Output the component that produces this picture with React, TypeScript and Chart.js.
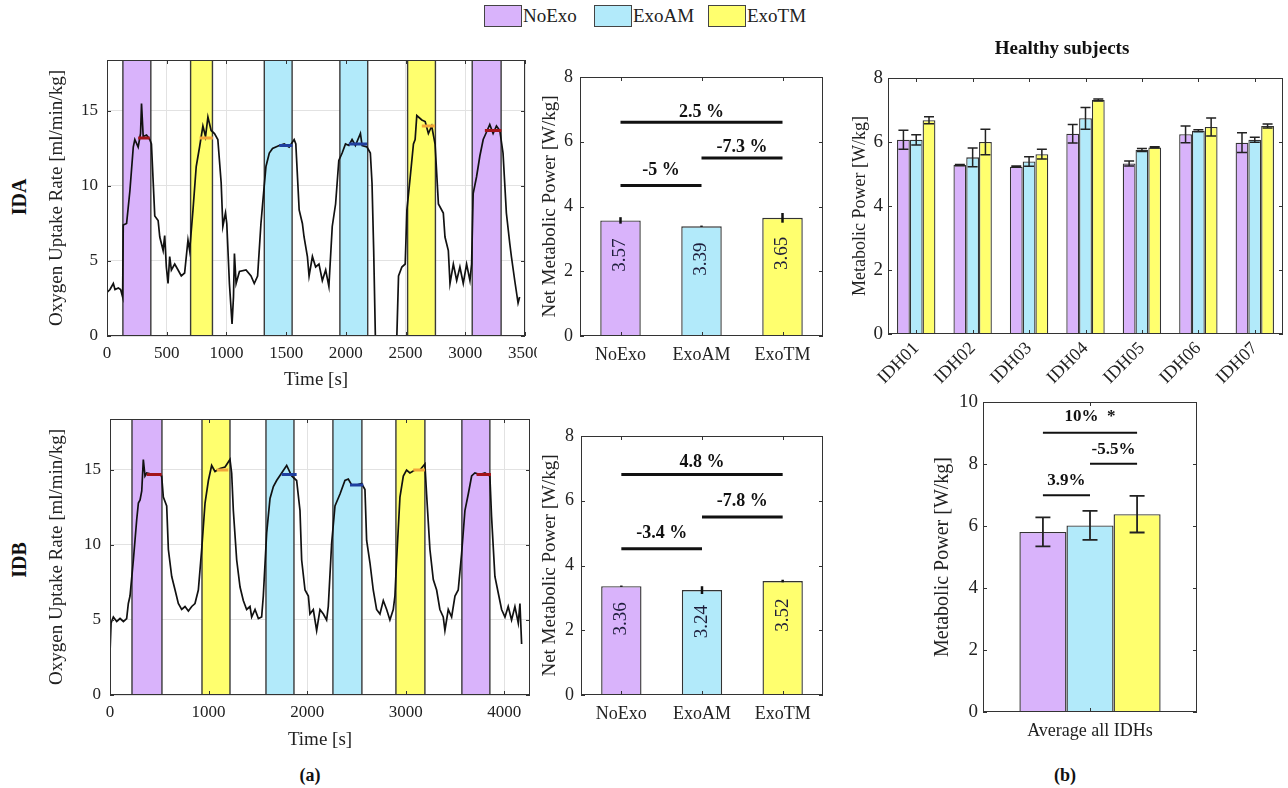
import React, { useEffect, useRef } from 'react';
import { Chart, registerables } from 'chart.js';

Chart.register(...registerables);

const FONT = '"Liberation Serif", "Times New Roman", Times, serif';
Chart.defaults.font.family = FONT;
Chart.defaults.color = '#222';

// ---------------- data ----------------
const conditions = ['NoExo', 'ExoAM', 'ExoTM'];

// IDA oxygen uptake time series
const idaTime = [
  0, 25, 53, 67, 95, 114, 131, 136, 164, 192,
  220, 233, 261, 281, 289, 303, 331, 358, 372, 386,
  400, 428, 442, 470, 483, 497, 511, 525, 539, 567,
  595, 622, 650, 678, 692, 720, 747, 775, 803, 825,
  845, 872, 900, 928, 956, 970, 992, 1003, 1025, 1047,
  1059, 1067, 1081, 1109, 1164, 1206, 1233, 1261, 1289, 1303,
  1331, 1359, 1386, 1442, 1484, 1525, 1567, 1581, 1609, 1636,
  1650, 1678, 1692, 1720, 1747, 1775, 1803, 1831, 1858,
  1886, 1914, 1941, 1969, 1997, 2025, 2052, 2080, 2122, 2136, 2177,
  2205, 2219, 2233, 2247, 2427, 2441, 2469, 2497, 2511, 2539,
  2566, 2580, 2594, 2636, 2664, 2691, 2719, 2747, 2775, 2816,
  2830, 2858, 2872, 2900, 2928, 2955, 2983, 3011, 3039, 3053,
  3066, 3094, 3122, 3150, 3178, 3205, 3233, 3261, 3289, 3316,
  3344, 3372, 3386, 3414, 3442, 3455,
];
const idaVO2 = [
  2.9, 3.1, 3.5, 3.1, 3.2, 3.1, 2.6, 7.4, 7.5, 9.7,
  12.6, 13.1, 12.6, 13.5, 15.5, 13.3, 13.4, 13.1, 12.8, 10.4,
  8.0, 7.7, 6.6, 5.7, 6.7, 4.6, 3.5, 5.3, 4.4, 4.8,
  4.4, 4.0, 4.2, 6.4, 5.7, 8.4, 11.3, 12.6, 14.0, 13.3,
  14.6, 13.7, 13.5, 13.1, 10.2, 7.3, 8.2, 7.5, 3.5, 0.8,
  2.6, 5.5, 3.5, 4.3, 4.4, 4.0, 3.5, 4.0, 7.5, 8.8,
  11.3, 12.2, 12.5, 12.7, 12.8, 12.6, 13.1, 12.8, 8.4, 7.5,
  6.6, 5.3, 4.0, 5.3, 4.6, 4.8, 3.7, 4.4, 3.3,
  7.3, 8.8, 11.7, 12.2, 12.8, 12.7, 13.1, 12.7, 13.5, 12.7, 12.6,
  12.2, 10.2, 5.7, 0, 0, 4.0, 4.6, 4.8, 8.4, 10.6,
  12.8, 13.1, 14.7, 14.4, 14.3, 13.5, 14.0, 12.8, 8.8, 8.2,
  6.6, 5.7, 3.5, 4.8, 3.7, 4.6, 3.5, 4.8, 3.7, 4.8,
  9.5, 10.6, 12.0, 13.1, 13.6, 14.1, 13.5, 14.0, 13.7, 12.2,
  8.2, 6.2, 5.3, 3.7, 2.2, 2.6,
];

// IDB oxygen uptake time series
const idbTime = [
  0, 11, 34, 68, 102, 136, 169, 186, 203, 237,
  271, 288, 305, 322, 338, 355, 372, 440, 491, 524,
  541, 575, 592, 626, 660, 693, 727, 761, 795, 829,
  862, 896, 930, 964, 998, 1031, 1065, 1116, 1167, 1217,
  1234, 1251, 1285, 1319, 1352, 1386, 1420, 1437, 1471, 1505,
  1538, 1555, 1589, 1623, 1657, 1690, 1741, 1792, 1843, 1893,
  1927, 1944, 1978, 2012, 2028, 2062, 2096, 2130, 2164, 2197,
  2214, 2248, 2282, 2333, 2383,
  2417, 2451, 2501, 2552, 2586, 2603, 2637, 2670, 2704, 2738,
  2772, 2806, 2839, 2873, 2890, 2907, 2941, 2975, 3008, 3042,
  3093, 3144, 3194, 3211, 3245, 3279, 3313, 3346, 3380, 3397,
  3431, 3465, 3499, 3532, 3566, 3600, 3634, 3668, 3701, 3752,
  3803, 3853, 3870, 3904, 3938, 3972, 4006, 4039, 4073, 4107,
  4141, 4158, 4175,
];
const idbVO2 = [
  2.8, 4.8, 5.2, 4.9, 5.1, 4.9, 5.1, 6.1, 6.6, 9.0,
  11.7, 12.8, 13.0, 13.6, 15.7, 14.6, 14.8, 14.7, 14.7, 14.6,
  13.2, 12.6, 9.7, 7.9, 7.0, 6.1, 5.7, 5.9, 5.6, 5.9,
  6.1, 7.0, 9.7, 12.8, 14.3, 15.3, 14.9, 15.1, 15.2, 15.7,
  14.8, 12.3, 9.0, 7.2, 6.3, 5.7, 5.9, 5.2, 5.7, 5.1,
  5.2, 6.6, 10.8, 13.1, 13.9, 14.3, 14.8, 15.3, 14.6, 14.3,
  12.3, 9.0, 7.0, 6.6, 5.4, 5.7, 4.3, 5.7, 5.4, 5.0,
  5.9, 10.1, 12.6, 13.4, 14.3,
  14.4, 14.0, 14.0, 14.1, 13.7, 10.3, 8.8, 7.0, 5.7, 5.4,
  6.3, 5.7, 5.0, 5.7, 6.6, 9.0, 13.2, 14.6, 15.0, 14.8,
  15.0, 15.0, 15.4, 13.4, 9.7, 7.7, 7.0, 5.7, 5.2, 4.3,
  5.7, 5.2, 6.6, 7.0, 9.4, 12.3, 13.4, 14.6, 14.8, 14.7,
  14.8, 14.6, 11.9, 7.9, 6.8, 5.7, 5.2, 5.9, 5.0, 5.9,
  4.8, 6.1, 3.4,
];

// axis tick values
const idaTimeTicks = [0, 500, 1000, 1500, 2000, 2500, 3000, 3500];
const idbTimeTicks = [0, 1000, 2000, 3000, 4000];
const vo2Ticks = [0, 5, 10, 15];

// walking bouts (shaded bands) and their condition
const boutCond = ['NoExo', 'ExoTM', 'ExoAM', 'ExoAM', 'ExoTM', 'NoExo'];
const idaBoutStart = [133, 700, 1317, 1950, 2517, 3058];
const idaBoutEnd = [367, 883, 1550, 2183, 2750, 3300];
const idbBoutStart = [223, 933, 1582, 2261, 2900, 3569];
const idbBoutEnd = [527, 1217, 1866, 2555, 3194, 3853];

// steady-state averaging windows
const idaSteadyStart = [261, 775, 1442, 2025, 2636, 3164];
const idaSteadyEnd = [358, 886, 1553, 2177, 2747, 3302];
const idaSteadyLevel = [13.2, 13.2, 12.7, 12.8, 14.0, 13.7];
const idbSteadyStart = [372, 1082, 1741, 2434, 3076, 3718];
const idbSteadyEnd = [524, 1200, 1893, 2569, 3194, 3864];
const idbSteadyLevel = [14.7, 15.0, 14.7, 14.0, 15.0, 14.7];

// net metabolic power per condition
const idaNet = [3.57, 3.39, 3.65];
const idaNetErr = [0.1, 0.02, 0.15];
const idbNet = [3.36, 3.24, 3.52];
const idbNetErr = [0.02, 0.12, 0.04];

// comparison brackets
const pairIdx = [[0, 1], [1, 2], [0, 2]];
const idaPctText = ['-5 %', '-7.3 %', '2.5 %'];
const idaPctLevel = [4.65, 5.5, 6.6];
const idaPctTextLevel = [5.12, 5.84, 6.91];
const idbPctText = ['-3.4 %', '-7.8 %', '4.8 %'];
const idbPctLevel = [4.52, 5.5, 6.81];
const idbPctTextLevel = [5.0, 5.97, 7.2];

// healthy subjects
const subjects = ['IDH01', 'IDH02', 'IDH03', 'IDH04', 'IDH05', 'IDH06', 'IDH07'];
const healthyNoExo = [6.07, 5.28, 5.23, 6.26, 5.33, 6.24, 5.98];
const healthyNoExoErr = [0.3, 0.02, 0.02, 0.29, 0.08, 0.26, 0.31];
const healthyExoAM = [6.07, 5.52, 5.39, 6.74, 5.75, 6.35, 6.07];
const healthyExoAMErr = [0.16, 0.29, 0.15, 0.34, 0.05, 0.03, 0.08];
const healthyExoTM = [6.68, 6.0, 5.62, 7.31, 5.83, 6.47, 6.5];
const healthyExoTMErr = [0.11, 0.4, 0.15, 0.03, 0.02, 0.28, 0.06];

const avgCategory = ['Average all IDHs'];
const avgMean = [5.81, 6.02, 6.38];
const avgErr = [0.47, 0.47, 0.59];
const avgPctText = ['3.9%', '-5.5%', '10%  *'];
const avgPctLevel = [6.99, 8.01, 9.01];
const avgPctTextLevel = [7.48, 8.45, 9.53];

// ---------------- styles ----------------
const FILL: Record<string, string> = { NoExo: '#d9b3fb', ExoAM: '#b2eafa', ExoTM: '#ffff6e' };
const MARK: Record<string, string> = { NoExo: '#a3141a', ExoAM: '#1f3f9f', ExoTM: '#f2a73a' };
const TS_YMAX = 18.4;
const plainNum = (v: any) => String(v);

// ---------------- plugins ----------------
const framePlugin = {
  id: 'frame',
  afterDraw(chart: any, _a: any, opts: any) {
    if (!opts || !opts.show) return;
    const { ctx, chartArea: a } = chart;
    ctx.save();
    ctx.strokeStyle = '#333';
    ctx.lineWidth = 1;
    ctx.strokeRect(a.left + 0.5, a.top + 0.5, a.right - a.left - 1, a.bottom - a.top - 1);
    const tl = opts.tickLen || 0;
    if (tl) {
      const xs = chart.scales.x;
      const ys = chart.scales.y;
      ctx.beginPath();
      xs.ticks.forEach((_t: any, i: number) => {
        const px = Math.round(xs.getPixelForTick(i)) + 0.5;
        ctx.moveTo(px, a.bottom); ctx.lineTo(px, a.bottom - tl);
        ctx.moveTo(px, a.top); ctx.lineTo(px, a.top + tl);
      });
      ys.ticks.forEach((_t: any, i: number) => {
        const py = Math.round(ys.getPixelForTick(i)) + 0.5;
        ctx.moveTo(a.left, py); ctx.lineTo(a.left + tl, py);
        ctx.moveTo(a.right, py); ctx.lineTo(a.right - tl, py);
      });
      ctx.stroke();
    }
    ctx.restore();
  },
};

const errPlugin = {
  id: 'errbars',
  afterDatasetsDraw(chart: any, _a: any, opts: any) {
    if (!opts || !opts.show) return;
    const ctx = chart.ctx;
    const ys = chart.scales.y;
    ctx.save();
    ctx.strokeStyle = opts.color || '#222';
    ctx.lineWidth = opts.lineWidth || 1.5;
    chart.data.datasets.forEach((ds: any, di: number) => {
      if (!ds.errors) return;
      const meta = chart.getDatasetMeta(di);
      meta.data.forEach((bar: any, i: number) => {
        const v = ds.data[i];
        const e = ds.errors[i];
        const y1 = ys.getPixelForValue(v - e);
        const y2 = ys.getPixelForValue(v + e);
        const x = bar.x;
        const c = (opts.cap || 0) / 2;
        ctx.beginPath();
        ctx.moveTo(x, y1); ctx.lineTo(x, y2);
        if (c) {
          ctx.moveTo(x - c, y1); ctx.lineTo(x + c, y1);
          ctx.moveTo(x - c, y2); ctx.lineTo(x + c, y2);
        }
        ctx.stroke();
      });
    });
    ctx.restore();
  },
};

const bracketPlugin = {
  id: 'brackets',
  afterDatasetsDraw(chart: any, _a: any, opts: any) {
    if (!opts || !opts.items) return;
    const ctx = chart.ctx;
    const ys = chart.scales.y;
    ctx.save();
    opts.items.forEach((it: any) => {
      const xa = chart.getDatasetMeta(it.from[0]).data[it.from[1]].x;
      const xb = chart.getDatasetMeta(it.to[0]).data[it.to[1]].x;
      const py = ys.getPixelForValue(it.level);
      ctx.strokeStyle = '#111';
      ctx.lineWidth = opts.lineWidth || 2;
      ctx.beginPath();
      ctx.moveTo(xa, py); ctx.lineTo(xb, py);
      ctx.stroke();
      ctx.font = `bold ${opts.fontSize || 18}px ${FONT}`;
      ctx.fillStyle = '#111';
      ctx.textAlign = 'center';
      ctx.textBaseline = 'middle';
      ctx.fillText(it.text, (xa + xb) / 2, ys.getPixelForValue(it.textLevel));
    });
    ctx.restore();
  },
};

const valueTextPlugin = {
  id: 'valueText',
  afterDatasetsDraw(chart: any, _a: any, opts: any) {
    if (!opts || !opts.show) return;
    const ctx = chart.ctx;
    const ys = chart.scales.y;
    ctx.save();
    ctx.font = `${opts.fontSize || 18}px ${FONT}`;
    ctx.fillStyle = '#1d1d3a';
    ctx.textAlign = 'center';
    ctx.textBaseline = 'middle';
    chart.data.datasets.forEach((ds: any, di: number) => {
      const meta = chart.getDatasetMeta(di);
      meta.data.forEach((bar: any, i: number) => {
        const v = ds.data[i];
        ctx.save();
        ctx.translate(bar.x, ys.getPixelForValue(v * 0.7));
        ctx.rotate(-Math.PI / 2);
        ctx.fillText(v.toFixed(2), 0, 0);
        ctx.restore();
      });
    });
    ctx.restore();
  },
};

Chart.register(framePlugin as any, errPlugin as any, bracketPlugin as any, valueTextPlugin as any);

// ---------------- config builders ----------------
function fixAxis(size: number, horizontal: boolean) {
  return (s: any) => {
    if (horizontal) s.height = size; else s.width = size;
    s.paddingLeft = 0; s.paddingRight = 0; s.paddingTop = 0; s.paddingBottom = 0;
  };
}

function setTicks(values: number[]) {
  return (s: any) => { s.ticks = values.map((v) => ({ value: v })); };
}

function tsConfig(p: any) {
  const datasets: any[] = [];
  p.boutStart.forEach((s: number, i: number) => {
    const e = p.boutEnd[i];
    datasets.push({
      data: [{ x: s, y: 0 }, { x: s, y: TS_YMAX }, { x: e, y: TS_YMAX }, { x: e, y: 0 }],
      backgroundColor: FILL[boutCond[i]],
      borderColor: '#3a3a3a',
      borderWidth: 1.4,
      fill: 'origin',
      pointRadius: 0,
      order: 3,
    });
  });
  datasets.push({
    data: p.time.map((t: number, i: number) => ({ x: t, y: p.vals[i] })),
    borderColor: '#111',
    borderWidth: 1.7,
    fill: false,
    pointRadius: 0,
    order: 1,
  });
  p.steadyStart.forEach((s: number, i: number) => {
    datasets.push({
      data: [{ x: s, y: p.steadyLevel[i] }, { x: p.steadyEnd[i], y: p.steadyLevel[i] }],
      borderColor: MARK[boutCond[i]],
      borderWidth: 3,
      fill: false,
      pointRadius: 0,
      order: 0,
    });
  });
  return {
    type: 'line',
    data: { datasets },
    options: {
      animation: false,
      responsive: false,
      events: [],
      layout: { padding: { top: p.padTop, right: p.padRight, left: 0, bottom: 0 } },
      plugins: { legend: { display: false }, tooltip: { enabled: false }, frame: { show: true, tickLen: 4 } },
      scales: {
        x: {
          type: 'linear', min: 0, max: p.xMax,
          afterBuildTicks: setTicks(p.xTicks),
          afterFit: fixAxis(p.xHeight, true),
          ticks: { autoSkip: false, maxRotation: 0, padding: 7, font: { size: 17 }, color: '#222', callback: plainNum },
          grid: { color: '#e2e2e2', drawTicks: false },
          border: { display: false },
          title: { display: true, text: 'Time [s]', font: { size: 19 }, color: '#222', padding: { top: 0, bottom: 4 } },
        },
        y: {
          type: 'linear', min: 0, max: TS_YMAX,
          afterBuildTicks: setTicks(vo2Ticks),
          afterFit: fixAxis(p.yWidth, false),
          ticks: { padding: 9, font: { size: 17 }, color: '#222', callback: plainNum },
          grid: { color: '#e2e2e2', drawTicks: false },
          border: { display: false },
          title: { display: true, text: 'Oxygen Uptake Rate [ml/min/kg]', font: { size: 19 }, color: '#222', padding: { top: 8, bottom: 0 } },
        },
      },
    },
  };
}

function netConfig(p: any) {
  return {
    type: 'bar',
    data: {
      labels: conditions,
      datasets: [{
        data: p.vals,
        errors: p.errs,
        backgroundColor: conditions.map((c) => FILL[c]),
        borderColor: '#333',
        borderWidth: 1.4,
        barPercentage: 0.5,
        categoryPercentage: 1,
      }],
    },
    options: {
      animation: false,
      responsive: false,
      events: [],
      layout: { padding: { top: p.padTop, right: p.padRight, left: 0, bottom: 0 } },
      plugins: {
        legend: { display: false }, tooltip: { enabled: false },
        frame: { show: true, tickLen: 4 },
        errbars: { show: true, lineWidth: 2.5, cap: 0, color: '#111' },
        valueText: { show: true, fontSize: 19 },
        brackets: {
          lineWidth: 3, fontSize: 18,
          items: pairIdx.map((pr, i) => ({ from: [0, pr[0]], to: [0, pr[1]], level: p.pctLevel[i], text: p.pctText[i], textLevel: p.pctTextLevel[i] })),
        },
      },
      scales: {
        x: {
          afterFit: fixAxis(p.xHeight, true),
          ticks: { padding: 8, font: { size: 18 }, color: '#222' },
          grid: { display: false, drawTicks: false },
          border: { display: false },
        },
        y: {
          min: 0, max: 8,
          afterFit: fixAxis(p.yWidth, false),
          ticks: { stepSize: 2, padding: 7, font: { size: 18 }, color: '#222', callback: plainNum },
          grid: { display: false, drawTicks: false },
          border: { display: false },
          title: { display: true, text: 'Net Metabolic Power [W/kg]', font: { size: 19 }, color: '#222', padding: { top: 2, bottom: 0 } },
        },
      },
    },
  };
}

function healthyConfig() {
  const vals = [healthyNoExo, healthyExoAM, healthyExoTM];
  const errs = [healthyNoExoErr, healthyExoAMErr, healthyExoTMErr];
  return {
    type: 'bar',
    data: {
      labels: subjects,
      datasets: conditions.map((c, i) => ({
        label: c, data: vals[i], errors: errs[i],
        backgroundColor: FILL[c], borderColor: '#333', borderWidth: 1.3,
        barPercentage: 1, categoryPercentage: 0.68,
      })),
    },
    options: {
      animation: false,
      responsive: false,
      events: [],
      layout: { padding: { top: 22, right: 5, left: 0, bottom: 0 } },
      plugins: {
        legend: { display: false }, tooltip: { enabled: false },
        frame: { show: true, tickLen: 4 },
        errbars: { show: true, lineWidth: 1.5, cap: 10, color: '#222' },
      },
      scales: {
        x: {
          afterFit: fixAxis(66, true),
          ticks: { padding: 4, minRotation: 45, maxRotation: 45, autoSkip: false, font: { size: 18 }, color: '#222' },
          grid: { display: false, drawTicks: false },
          border: { display: false },
        },
        y: {
          min: 0, max: 8,
          afterFit: fixAxis(52, false),
          ticks: { stepSize: 2, padding: 5, font: { size: 19 }, color: '#222', callback: plainNum },
          grid: { display: false, drawTicks: false },
          border: { display: false },
          title: { display: true, text: 'Metabolic Power [W/kg]', font: { size: 18 }, color: '#222', padding: { top: 13, bottom: 0 } },
        },
      },
    },
  };
}

function avgConfig() {
  return {
    type: 'bar',
    data: {
      labels: avgCategory,
      datasets: conditions.map((c, i) => ({
        label: c, data: [avgMean[i]], errors: [avgErr[i]],
        backgroundColor: FILL[c], borderColor: '#333', borderWidth: 1.4,
        barPercentage: 1, categoryPercentage: 0.66,
      })),
    },
    options: {
      animation: false,
      responsive: false,
      events: [],
      layout: { padding: { top: 22, right: 13, left: 0, bottom: 0 } },
      plugins: {
        legend: { display: false }, tooltip: { enabled: false },
        frame: { show: true, tickLen: 4 },
        errbars: { show: true, lineWidth: 1.8, cap: 15, color: '#222' },
        brackets: {
          lineWidth: 2, fontSize: 17,
          items: pairIdx.map((pr, i) => ({ from: [pr[0], 0], to: [pr[1], 0], level: avgPctLevel[i], text: avgPctText[i], textLevel: avgPctTextLevel[i] })),
        },
      },
      scales: {
        x: {
          afterFit: fixAxis(33, true),
          ticks: { padding: 8, font: { size: 18 }, color: '#222' },
          grid: { display: false, drawTicks: false },
          border: { display: false },
        },
        y: {
          min: 0, max: 10,
          afterFit: fixAxis(58, false),
          ticks: { stepSize: 2, padding: 5, font: { size: 19 }, color: '#222', callback: plainNum },
          grid: { display: false, drawTicks: false },
          border: { display: false },
          title: { display: true, text: 'Metabolic Power [W/kg]', font: { size: 20 }, color: '#222', padding: { top: 6, bottom: 0 } },
        },
      },
    },
  };
}

// ---------------- components ----------------
function ChartBox(props: { left: number; top: number; width: number; height: number; make: () => any; bg?: string }) {
  const ref = useRef<HTMLCanvasElement>(null);
  useEffect(() => {
    const chart = new Chart(ref.current as HTMLCanvasElement, props.make());
    return () => chart.destroy();
  }, []);
  const { left, top, width, height } = props;
  return (
    <div style={{ position: 'absolute', left, top, width, height, background: props.bg }}>
      <canvas ref={ref} width={width} height={height} style={{ width, height, display: 'block' }} />
    </div>
  );
}

function RotLabel(props: { x: number; y: number; text: string; size: number }) {
  return (
    <div style={{
      position: 'absolute', left: props.x, top: props.y, transform: 'translate(-50%, -50%) rotate(-90deg)',
      fontWeight: 'bold', fontSize: props.size, whiteSpace: 'nowrap', color: '#111', lineHeight: 1,
    }}>{props.text}</div>
  );
}

function CenterLabel(props: { x: number; y: number; text: string; size: number }) {
  return (
    <div style={{
      position: 'absolute', left: props.x, top: props.y, transform: 'translate(-50%, -50%)',
      fontWeight: 'bold', fontSize: props.size, whiteSpace: 'nowrap', color: '#111', lineHeight: 1,
    }}>{props.text}</div>
  );
}

const legendLeft = [484, 594, 708];

export default function App() {
  return (
    <div style={{ position: 'absolute', left: 0, top: 0, width: 1288, height: 788, background: '#fff', overflow: 'hidden', fontFamily: FONT, color: '#222' }}>
      {conditions.map((c, i) => (
        <div key={c} style={{ position: 'absolute', left: legendLeft[i], top: 5, display: 'flex', alignItems: 'center', height: 22 }}>
          <div style={{ width: 38, height: 22, background: FILL[c], border: '1.5px solid #444', boxSizing: 'border-box' }} />
          <span style={{ fontSize: 19, marginLeft: 1, lineHeight: '22px' }}>{c}</span>
        </div>
      ))}

      <ChartBox left={38} top={50} width={499} height={345} make={() => tsConfig({
        time: idaTime, vals: idaVO2, boutStart: idaBoutStart, boutEnd: idaBoutEnd,
        steadyStart: idaSteadyStart, steadyEnd: idaSteadyEnd, steadyLevel: idaSteadyLevel,
        xMax: 3500, xTicks: idaTimeTicks, padTop: 10, padRight: 12, yWidth: 69, xHeight: 59,
      })} />
      <ChartBox left={537} top={55} width={290} height={340} bg="#fff" make={() => netConfig({
        vals: idaNet, errs: idaNetErr, pctText: idaPctText, pctLevel: idaPctLevel, pctTextLevel: idaPctTextLevel,
        padTop: 22, padRight: 4, yWidth: 43, xHeight: 59,
      })} />

      <ChartBox left={38} top={409} width={499} height={346} make={() => tsConfig({
        time: idbTime, vals: idbVO2, boutStart: idbBoutStart, boutEnd: idbBoutEnd,
        steadyStart: idbSteadyStart, steadyEnd: idbSteadyEnd, steadyLevel: idbSteadyLevel,
        xMax: 4260, xTicks: idbTimeTicks, padTop: 10, padRight: 7, yWidth: 72, xHeight: 60,
      })} />
      <ChartBox left={537} top={414} width={290} height={341} bg="#fff" make={() => netConfig({
        vals: idbNet, errs: idbNetErr, pctText: idbPctText, pctLevel: idbPctLevel, pctTextLevel: idbPctTextLevel,
        padTop: 22, padRight: 4, yWidth: 44, xHeight: 60,
      })} />

      <ChartBox left={836} top={56} width={452} height={344} make={healthyConfig} />
      <ChartBox left={925} top={380} width={285} height={365} make={avgConfig} />

      <CenterLabel x={1062} y={47} text="Healthy subjects" size={19} />
      <RotLabel x={19} y={197} text="IDA" size={20} />
      <RotLabel x={19} y={560} text="IDB" size={20} />
      <CenterLabel x={310} y={775} text="(a)" size={18} />
      <CenterLabel x={1065} y={775} text="(b)" size={18} />
    </div>
  );
}
